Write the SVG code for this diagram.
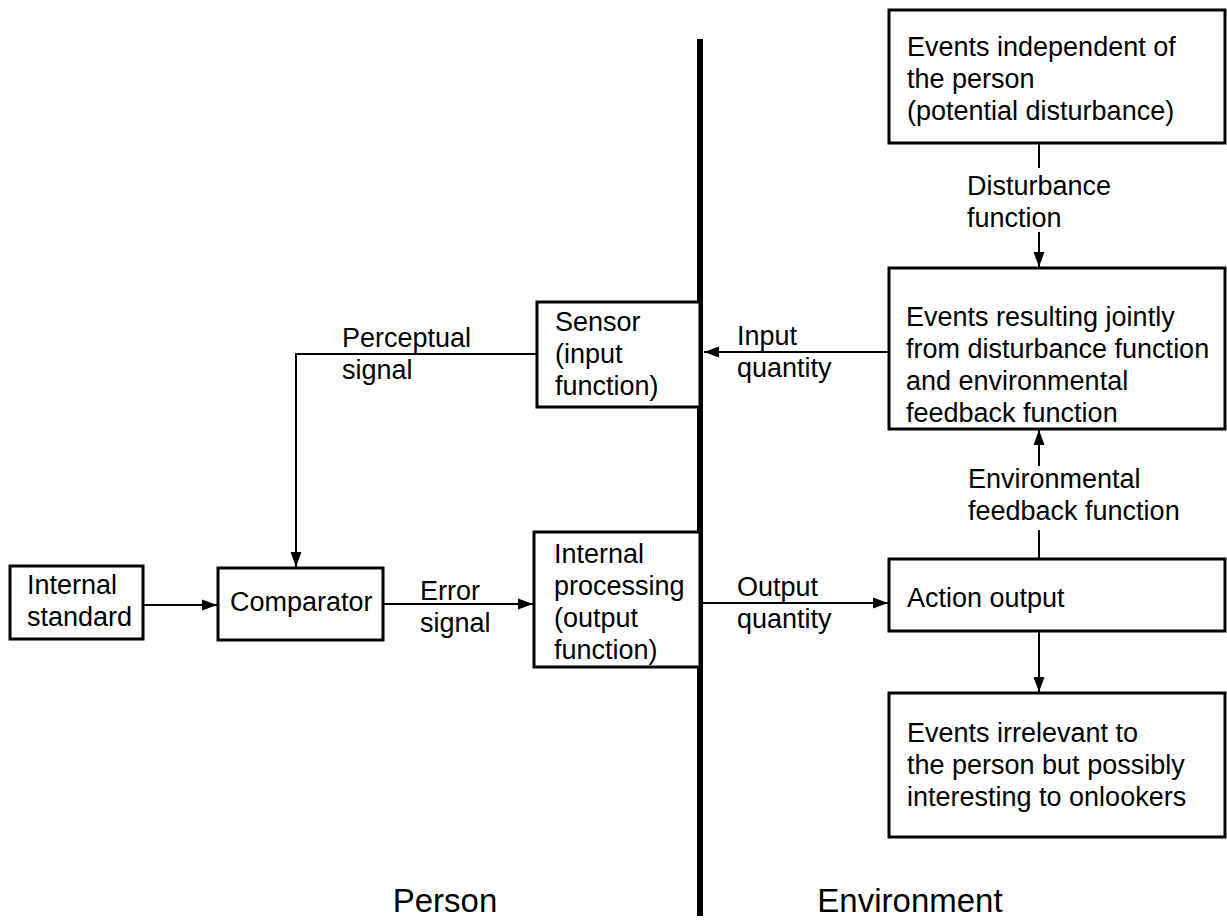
<svg xmlns="http://www.w3.org/2000/svg" width="1227" height="922" viewBox="0 0 1227 922">
  <style>
    .box { fill: #fff; stroke: #000; stroke-width: 3; }
    .lbl { font-family: "Liberation Sans", Arial, Helvetica, sans-serif; font-size: 27px; fill: #000; }
    .big { font-family: "Liberation Sans", Arial, Helvetica, sans-serif; font-size: 33px; fill: #000; text-anchor: middle; }
    .wire { fill: none; stroke: #000; stroke-width: 2; }
  </style>
  <defs>
    <marker id="arrow" markerUnits="userSpaceOnUse" markerWidth="16" markerHeight="12" refX="15" refY="6" orient="auto">
      <path d="M0,0.5 L15,6 L0,11.5 Z" fill="#000"/>
    </marker>
  </defs>
  <rect width="1227" height="922" fill="#fff"/>

  <!-- person / environment boundary -->
  <line x1="700" y1="39" x2="700" y2="916" stroke="#000" stroke-width="6"/>

  <g id="connectors">
    <path class="wire" d="M143,605 H217" marker-end="url(#arrow)"/>
    <path class="wire" d="M383,604 H533" marker-end="url(#arrow)"/>
    <path class="wire" d="M703,603 H888" marker-end="url(#arrow)"/>
    <path class="wire" d="M889,352 H704" marker-end="url(#arrow)"/>
    <path class="wire" d="M537,354 H296 V567" marker-end="url(#arrow)"/>
    <path class="wire" d="M1039,143 V168"/>
    <path class="wire" d="M1039,232 V267" marker-end="url(#arrow)"/>
    <path class="wire" d="M1039,559 V530"/>
    <path class="wire" d="M1039,466 V430" marker-end="url(#arrow)"/>
    <path class="wire" d="M1039,631 V692" marker-end="url(#arrow)"/>
  </g>

  <g id="internal-standard">
    <rect class="box" x="10" y="566" width="133" height="73"/>
    <text class="lbl" x="27" y="594">Internal</text>
    <text class="lbl" x="27" y="626">standard</text>
  </g>

  <g id="comparator">
    <rect class="box" x="218" y="568" width="165" height="72"/>
    <text class="lbl" x="230" y="611">Comparator</text>
  </g>

  <g id="internal-processing">
    <rect class="box" x="534" y="532" width="166" height="135"/>
    <text class="lbl" x="554" y="563">Internal</text>
    <text class="lbl" x="554" y="595">processing</text>
    <text class="lbl" x="554" y="627">(output</text>
    <text class="lbl" x="554" y="659">function)</text>
  </g>

  <g id="sensor">
    <rect class="box" x="537" y="302" width="163" height="105"/>
    <text class="lbl" x="555" y="331">Sensor</text>
    <text class="lbl" x="555" y="363">(input</text>
    <text class="lbl" x="555" y="395">function)</text>
  </g>

  <g id="independent-events">
    <rect class="box" x="889" y="10" width="336" height="133"/>
    <text class="lbl" x="907" y="56">Events independent of</text>
    <text class="lbl" x="907" y="88">the person</text>
    <text class="lbl" x="907" y="120">(potential disturbance)</text>
  </g>

  <g id="joint-events">
    <rect class="box" x="889" y="268" width="336" height="161"/>
    <text class="lbl" x="906" y="326">Events resulting jointly</text>
    <text class="lbl" x="906" y="358">from disturbance function</text>
    <text class="lbl" x="906" y="390">and environmental</text>
    <text class="lbl" x="906" y="422">feedback function</text>
  </g>

  <g id="action-output">
    <rect class="box" x="889" y="559" width="336" height="72"/>
    <text class="lbl" x="907" y="607">Action output</text>
  </g>

  <g id="irrelevant-events">
    <rect class="box" x="889" y="693" width="336" height="144"/>
    <text class="lbl" x="907" y="742">Events irrelevant to</text>
    <text class="lbl" x="907" y="774">the person but possibly</text>
    <text class="lbl" x="907" y="806">interesting to onlookers</text>
  </g>

  <g id="labels">
    <text class="lbl" x="342" y="347">Perceptual</text>
    <text class="lbl" x="342" y="379">signal</text>
    <text class="lbl" x="420" y="600">Error</text>
    <text class="lbl" x="420" y="632">signal</text>
    <text class="lbl" x="737" y="345">Input</text>
    <text class="lbl" x="737" y="377">quantity</text>
    <text class="lbl" x="737" y="596">Output</text>
    <text class="lbl" x="737" y="628">quantity</text>
    <text class="lbl" x="967" y="195">Disturbance</text>
    <text class="lbl" x="967" y="227">function</text>
    <text class="lbl" x="968" y="488">Environmental</text>
    <text class="lbl" x="968" y="520">feedback function</text>
  </g>

  <g id="regions">
    <text class="big" x="445" y="912">Person</text>
    <text class="big" x="910" y="912">Environment</text>
  </g>
</svg>
